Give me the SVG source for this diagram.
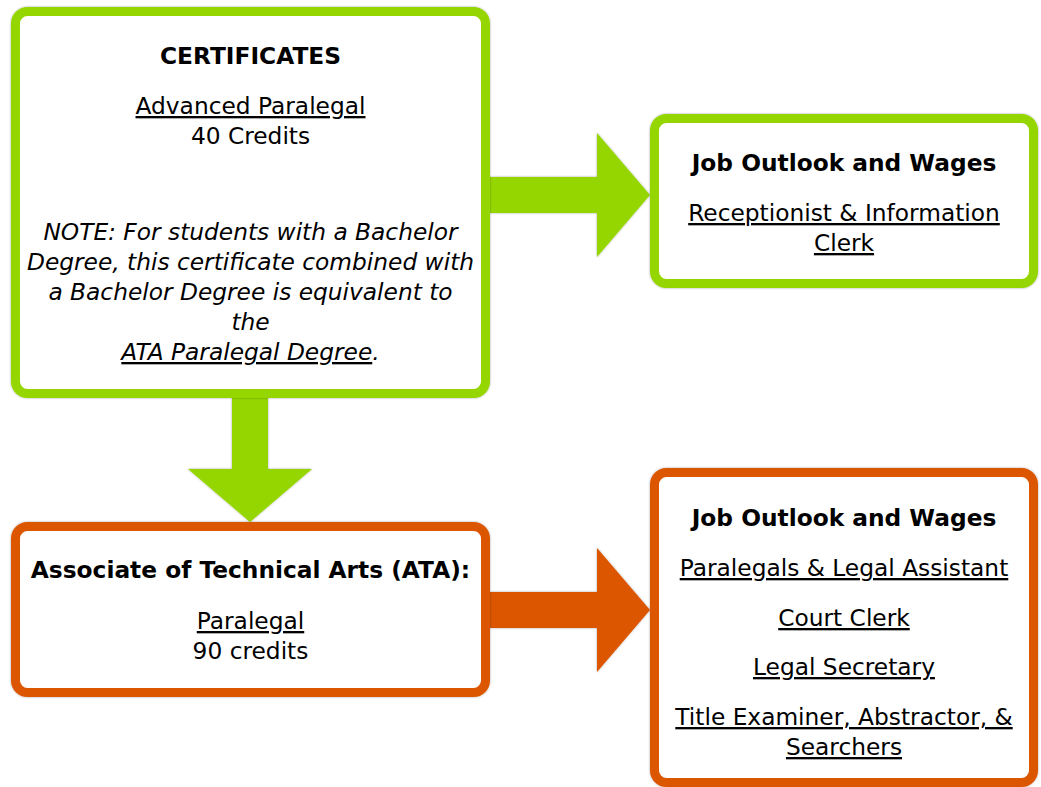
<svg xmlns="http://www.w3.org/2000/svg" width="1041" height="787" viewBox="0 0 1041 787">
  <defs>
    <filter id="sh" x="-5%" y="-5%" width="110%" height="110%">
      <feDropShadow dx="0" dy="0" stdDeviation="1" flood-color="#000" flood-opacity="0.35"/>
    </filter>
    <style>
      .box { fill: #ffffff; stroke-width: 9; filter: url(#sh); }
      .green { stroke: #96d600; }
      .orange { stroke: #dc5600; }
      .agreen { fill: #96d600; filter: url(#sh); }
      .aorange { fill: #dc5600; filter: url(#sh); }
      text { font-family: "DejaVu Sans", "Liberation Sans", sans-serif; font-size: 23.3px; fill: #000; text-anchor: middle; }
      .b { font-weight: bold; }
      .i { font-style: italic; }
      .u { text-decoration: underline; }
    </style>
  </defs>
  <rect width="1041" height="787" fill="#ffffff"/>

  <g id="connectors">
    <polygon class="agreen" points="490,177 597,177 597,133 650,195 597,257 597,213 490,213"/>
    <polygon class="agreen" points="232,398 268,398 268,469 312,469 250,522 188,469 232,469"/>
    <polygon class="aorange" points="490,592 597,592 597,548 650,610 597,672 597,628 490,628"/>
  </g>

  <g id="certificates">
    <rect class="box green" x="15.5" y="11.5" width="470" height="382" rx="12"/>
    <text x="250.5" y="64" class="b">CERTIFICATES</text>
    <text x="250.5" y="114"><tspan class="u">Advanced Paralegal</tspan></text>
    <text x="250.5" y="144">40 Credits</text>
    <text class="i" x="250.5" y="240">NOTE: For students with a Bachelor</text>
    <text class="i" x="250.5" y="270">Degree, this certificate combined with</text>
    <text class="i" x="250.5" y="300">a Bachelor Degree is equivalent to</text>
    <text class="i" x="250.5" y="330">the</text>
    <text class="i" x="250.5" y="360"><tspan class="u">ATA Paralegal Degree</tspan>.</text>
  </g>

  <g id="jobs-certificate">
    <rect class="box green" x="654.5" y="118.5" width="379" height="165" rx="12"/>
    <text x="844" y="171" class="b">Job Outlook and Wages</text>
    <text x="844" y="221"><tspan class="u">Receptionist &amp; Information</tspan></text>
    <text x="844" y="251"><tspan class="u">Clerk</tspan></text>
  </g>

  <g id="ata">
    <rect class="box orange" x="15.5" y="526.5" width="470" height="166" rx="12"/>
    <text x="250.5" y="578" class="b">Associate of Technical Arts (ATA):</text>
    <text x="250.5" y="629"><tspan class="u">Paralegal</tspan></text>
    <text x="250.5" y="659">90 credits</text>
  </g>

  <g id="jobs-ata">
    <rect class="box orange" x="654.5" y="472.5" width="379" height="310" rx="12"/>
    <text x="844" y="526" class="b">Job Outlook and Wages</text>
    <text x="844" y="576"><tspan class="u">Paralegals &amp; Legal Assistant</tspan></text>
    <text x="844" y="626"><tspan class="u">Court Clerk</tspan></text>
    <text x="844" y="675"><tspan class="u">Legal Secretary</tspan></text>
    <text x="844" y="725"><tspan class="u">Title Examiner, Abstractor, &amp;</tspan></text>
    <text x="844" y="755"><tspan class="u">Searchers</tspan></text>
  </g>
</svg>
